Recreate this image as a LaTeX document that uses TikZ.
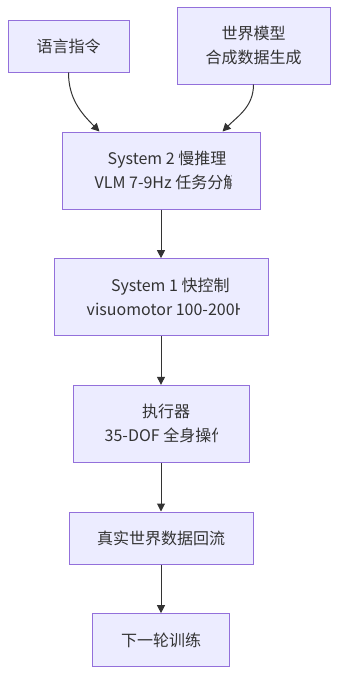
\documentclass[tikz,border=0pt]{standalone}
\usepackage{fontspec}
\setmainfont{Noto Sans CJK SC}
\usetikzlibrary{arrows.meta,positioning}
\definecolor{boxfill}{HTML}{ECECFF}
\definecolor{boxline}{HTML}{9370DB}
\definecolor{ink}{HTML}{333333}
\begin{document}
\begin{tikzpicture}[
  x=0.75pt,y=0.75pt,
  node distance=36.5pt,
  stage/.style={draw=boxline,fill=boxfill,line width=.75pt,inner sep=0pt,
    text=ink,align=center,font=\fontsize{12}{18}\selectfont},
  label/.style={text=ink,align=center,inner sep=0pt,font=\fontsize{12}{18}\selectfont},
  flow/.style={draw=ink,line width=.75pt,-{Triangle[length=6pt,width=6pt]}}
]
  \useasboundingbox (0,0) rectangle (346,-686);

  \node[stage,minimum width=90.75pt,minimum height=39pt] (lang) at (68.5,-46) {语言指令};
  \node[stage,minimum width=114.75pt,minimum height=57.75pt] (world) at (253.5,-45.5) {世界模型\\合成数据生成};
  \node[stage,minimum width=148.5pt,minimum height=57.75pt] (slow) at (161,-170.5) {};
  \node[stage,minimum width=160.5pt,minimum height=57.75pt,below=of slow] (fast) {};
  \node[stage,minimum width=132pt,minimum height=57.75pt,below=of fast] (actuator) {};
  \node[stage,minimum width=138pt,minimum height=39pt,below=of actuator] (realdata) {真实世界数据回流};
  \node[stage,minimum width=102.75pt,minimum height=39.75pt,below=of realdata] (nextround) {下一轮训练};

  % labels too wide for their boxes are cut off on the right
  \begin{scope}
    \clip (slow.south west) rectangle ([xshift=-21.75pt]slow.north east);
    \node[label] (slowtext) at ([xshift=4.5pt]slow.center) {System 2 慢推理\\VLM 7-9Hz 任务分解};
  \end{scope}
  \begin{scope}
    \clip (fast.south west) rectangle ([xshift=-21.75pt]fast.north east);
    \node[label] (fasttext) at ([xshift=7pt]fast.center) {System 1 快控制\\visuomotor 100-200Hz};
  \end{scope}
  \begin{scope}
    \clip (actuator.south west) rectangle ([xshift=-24pt]actuator.north east);
    \node[label] (actuatortext) at ([xshift=3.75pt]actuator.center) {执行器\\35-DOF 全身操作};
  \end{scope}

  \draw[flow] (lang.south) to[out=-90,in=135] ([xshift=28.5pt]slow.north west);
  \draw[flow] (world.south) to[out=-90,in=45] ([xshift=-28.5pt]slow.north east);
  \draw[flow] (slow) -- (fast);
  \draw[flow] (fast) -- (actuator);
  \draw[flow] (actuator) -- (realdata);
  \draw[flow] (realdata) -- (nextround);
\end{tikzpicture}
\end{document}
